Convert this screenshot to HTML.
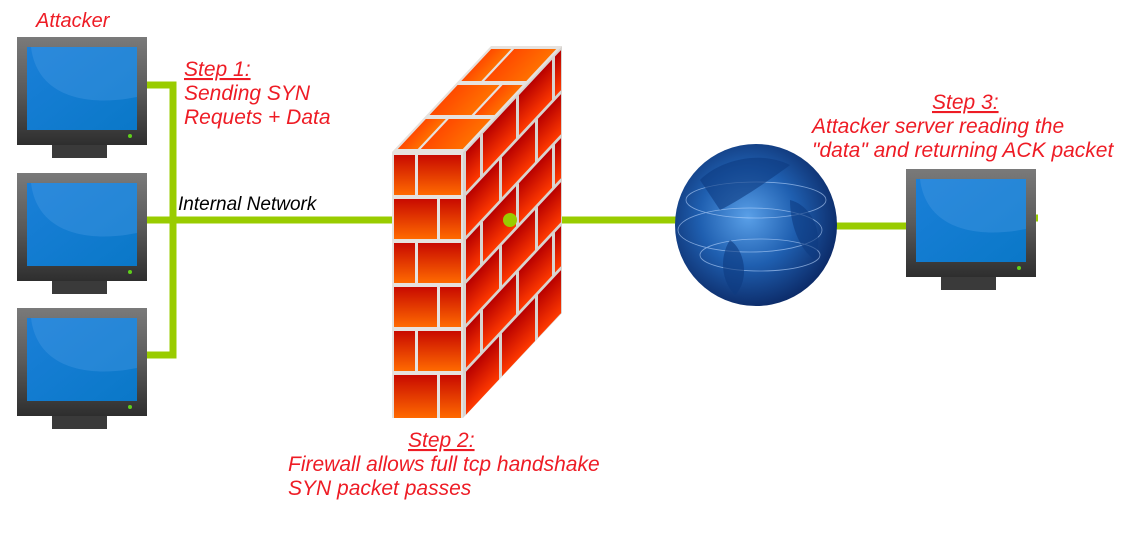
<!DOCTYPE html>
<html><head><meta charset="utf-8"><style>
body{margin:0;background:#fff;}
svg{display:block}
text{font-family:"Liberation Sans",sans-serif;font-style:italic;}
.r{fill:#ee1c25;font-size:21px}
</style></head><body>
<svg width="1126" height="538" viewBox="0 0 1126 538" xmlns="http://www.w3.org/2000/svg">
<defs>
<linearGradient id="bez" x1="0" y1="0" x2="0" y2="1"><stop offset="0" stop-color="#7a7a7a"/><stop offset="0.5" stop-color="#5a5a5a"/><stop offset="1" stop-color="#2e2e2e"/></linearGradient>
<linearGradient id="scr" x1="0" y1="0" x2="1" y2="1"><stop offset="0" stop-color="#1a7fd8"/><stop offset="1" stop-color="#0a78c8"/></linearGradient>
<linearGradient id="brk" x1="0" y1="0" x2="0" y2="1"><stop offset="0" stop-color="#c80a00"/><stop offset="1" stop-color="#ff6a00"/></linearGradient>
<linearGradient id="brk2" x1="0" y1="0" x2="0" y2="1"><stop offset="0" stop-color="#b80000"/><stop offset="1" stop-color="#ff3a00"/></linearGradient>
<linearGradient id="brk3" x1="0" y1="0" x2="1" y2="0"><stop offset="0" stop-color="#ff4a00"/><stop offset="1" stop-color="#ff7000"/></linearGradient>
<radialGradient id="glb" cx="0.45" cy="0.45" r="0.6"><stop offset="0" stop-color="#5aa0e8"/><stop offset="0.5" stop-color="#1f5fb0"/><stop offset="1" stop-color="#0a2560"/></radialGradient>
<g id="mon">
<rect x="0" y="0" width="130" height="108" fill="url(#bez)"/>
<rect x="10" y="10" width="110" height="83" fill="url(#scr)"/>
<path d="M10 10 H120 V60 C70 70 20 60 14 10Z" fill="#4d9ee6" opacity="0.35"/>
<circle cx="113" cy="99" r="2" fill="#5fd01a"/>
<rect x="35" y="108" width="55" height="13" fill="#3a3a3a"/>
</g>
</defs>
<g fill="none" stroke="#99cc00" stroke-width="7">
<path d="M147 85 H173 V355 H147"/>
<path d="M147 220 H392"/>
<path d="M510 220 H680"/>
<path d="M834 226 H908"/>
<path d="M1034 218 H1038"/>
</g>
<use href="#mon" x="17" y="37"/>
<use href="#mon" x="17" y="173"/>
<use href="#mon" x="17" y="308"/>
<use href="#mon" x="906" y="169"/>
<g>
<polygon points="392,152 463,152 562,46 491,46" fill="#e6e2de"/>
<polygon points="463,152 562,46 562,313 463,418" fill="#d8d4d0"/>
<rect x="392" y="152" width="71" height="266" fill="#e6e2de"/>
<g transform="matrix(1,0,0.934,-1,392,152)" fill="url(#brk3)">
<rect x="3" y="3" width="20" height="30"/><rect x="26" y="3" width="42" height="30"/>
<rect x="3" y="37" width="42" height="30"/><rect x="48" y="37" width="20" height="30"/>
<rect x="3" y="71" width="20" height="32"/><rect x="26" y="71" width="42" height="32"/>
</g>
<g fill="url(#brk)">
<rect x="394" y="155" width="21" height="40"/><rect x="418" y="155" width="43" height="40"/>
<rect x="394" y="199" width="43" height="40"/><rect x="440" y="199" width="21" height="40"/>
<rect x="394" y="243" width="21" height="40"/><rect x="418" y="243" width="43" height="40"/>
<rect x="394" y="287" width="43" height="40"/><rect x="440" y="287" width="21" height="40"/>
<rect x="394" y="331" width="21" height="40"/><rect x="418" y="331" width="43" height="40"/>
<rect x="394" y="375" width="43" height="43"/><rect x="440" y="375" width="21" height="43"/>
</g>
<g transform="matrix(1,-1.07,0,1,463,152)" fill="url(#brk2)">
<rect x="3" y="3" width="14" height="40"/><rect x="20" y="3" width="33" height="40"/><rect x="56" y="3" width="33" height="40"/><rect x="92" y="3" width="6" height="40"/>
<rect x="3" y="47" width="33" height="40"/><rect x="39" y="47" width="33" height="40"/><rect x="75" y="47" width="23" height="40"/>
<rect x="3" y="91" width="14" height="40"/><rect x="20" y="91" width="33" height="40"/><rect x="56" y="91" width="33" height="40"/><rect x="92" y="91" width="6" height="40"/>
<rect x="3" y="135" width="33" height="40"/><rect x="39" y="135" width="33" height="40"/><rect x="75" y="135" width="23" height="40"/>
<rect x="3" y="179" width="14" height="40"/><rect x="20" y="179" width="33" height="40"/><rect x="56" y="179" width="33" height="40"/><rect x="92" y="179" width="6" height="40"/>
<rect x="3" y="223" width="33" height="43"/><rect x="39" y="223" width="33" height="43"/><rect x="75" y="223" width="23" height="43"/>
</g>
</g>
<circle cx="510" cy="220" r="7" fill="#99cc00"/>
<circle cx="756" cy="225" r="81" fill="url(#glb)"/>
<g fill="none" stroke="#bcd8ff" stroke-width="0.8" opacity="0.6">
<ellipse cx="756" cy="200" rx="70" ry="18"/><ellipse cx="750" cy="230" rx="72" ry="22"/><ellipse cx="760" cy="255" rx="60" ry="16"/>
</g>
<path d="M700 180 C720 160 760 150 790 165 C770 180 740 200 720 210Z M790 200 C810 205 825 230 815 260 C800 250 790 225 790 200Z M730 240 C745 250 750 280 735 295 C720 280 720 255 730 240Z" fill="#0e3a80" opacity="0.6"/>
<text class="r" x="36" y="27" style="font-size:20px">Attacker</text>
<text class="r" x="184" y="76" text-decoration="underline">Step 1:</text>
<text class="r" x="184" y="100">Sending SYN</text>
<text class="r" x="184" y="124">Requets + Data</text>
<text x="178" y="210" style="font-size:19px" fill="#000">Internal Network</text>
<text class="r" x="408" y="447" text-decoration="underline">Step 2:</text>
<text class="r" x="288" y="471">Firewall allows full tcp handshake</text>
<text class="r" x="288" y="495">SYN packet passes</text>
<text class="r" x="932" y="109" text-decoration="underline">Step 3:</text>
<text class="r" x="812" y="133">Attacker server reading the</text>
<text class="r" x="812" y="157">"data" and returning ACK packet</text>
</svg>
</body></html>
